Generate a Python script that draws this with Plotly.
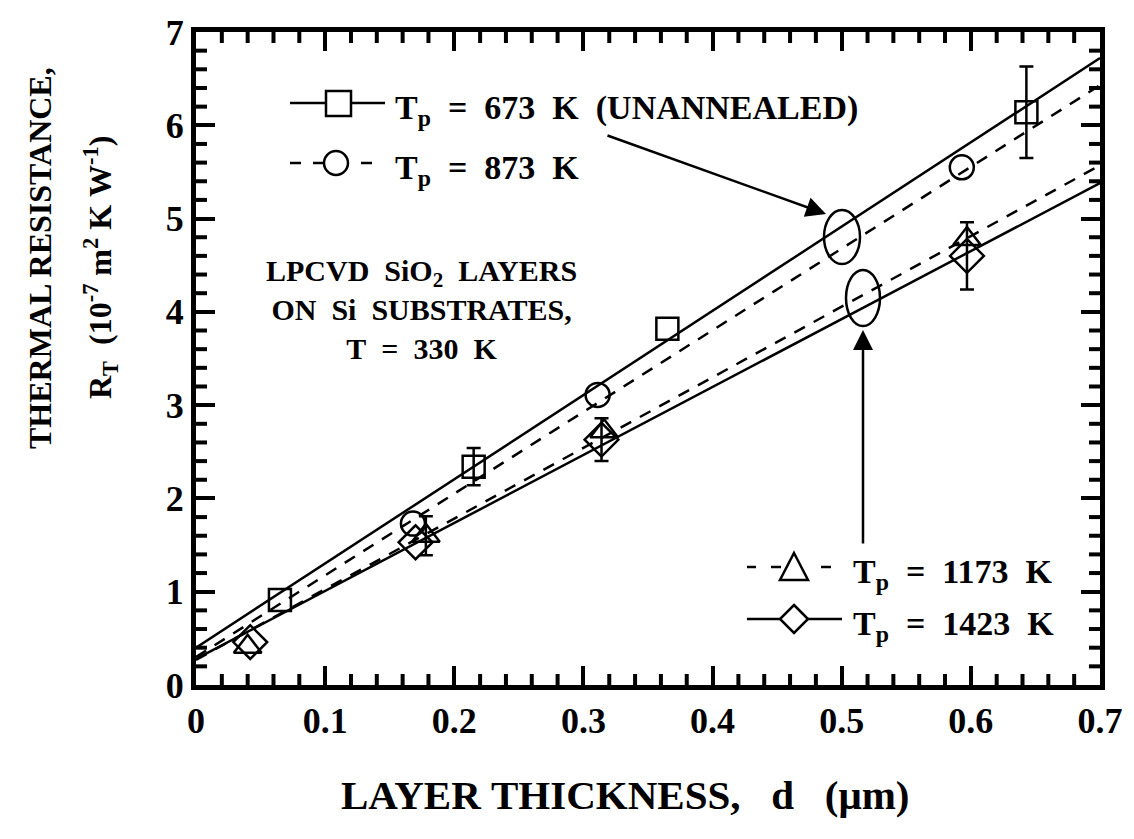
import plotly.graph_objects as go

# ---------------- data ----------------
D_673 = [0.065, 0.215, 0.365, 0.643]
R_673 = [0.91, 2.34, 3.82, 6.14]
E_673 = [None, 0.20, None, 0.49]

D_873 = [0.168, 0.311, 0.593]
R_873 = [1.73, 3.11, 5.55]

D_1173 = [0.040, 0.178, 0.316, 0.597]
R_1173 = [0.41, 1.60, 2.72, 4.78]
E_1173 = [None, 0.21, None, None]

D_1423 = [0.042, 0.170, 0.314, 0.597]
R_1423 = [0.46, 1.53, 2.63, 4.60]
E_1423 = [None, None, 0.23, 0.36]

FIT_D = [0.0, 0.7]
FIT_673 = [0.40, 6.72]
FIT_873 = [0.30, 6.43]
FIT_1173 = [0.27, 5.57]
FIT_1423 = [0.28, 5.38]

X_TICKS = [0, 0.1, 0.2, 0.3, 0.4, 0.5, 0.6, 0.7]
X_TICK_LABELS = ["0", "0.1", "0.2", "0.3", "0.4", "0.5", "0.6", "0.7"]
Y_TICKS = [0, 1, 2, 3, 4, 5, 6, 7]
Y_TICK_LABELS = ["0", "1", "2", "3", "4", "5", "6", "7"]

# ---------------- layout geometry (pixels) ----------------
W, H = 1134, 839
PL, PR, PT, PB = 196, 1100, 32, 685
FONT = "Liberation Serif"
NB = "\u00a0"

X_MINOR = [round(i * 0.02, 2) for i in range(1, 35) if i % 5]
Y_MINOR = [round(i * 0.2, 1) for i in range(1, 35) if i % 5]


def px(x):
    return (x - PL) / (PR - PL)


def py(y):
    return (PB - y) / (PB - PT)


def dx(x):
    return (x - PL) / (PR - PL) * 0.7


def dy(y):
    return (PB - y) / (PB - PT) * 7.0


fig = go.Figure()

# fitted lines
for ys, dash in [(FIT_673, "solid"), (FIT_873, "12px,10px"),
                 (FIT_1173, "12px,10px"), (FIT_1423, "solid")]:
    fig.add_trace(go.Scatter(x=FIT_D, y=ys, mode="lines",
                             line=dict(color="black", width=2.5, dash=dash),
                             showlegend=False, hoverinfo="skip"))


def err_trace(xs, ys, es):
    ex = [x for x, e in zip(xs, es) if e is not None]
    ey = [y for y, e in zip(ys, es) if e is not None]
    ee = [e for e in es if e is not None]
    return go.Scatter(x=ex, y=ey, mode="markers",
                      marker=dict(color="rgba(0,0,0,0)", size=1),
                      error_y=dict(type="data", array=ee, color="black",
                                   thickness=2.5, width=7),
                      showlegend=False, hoverinfo="skip")


for xs, ys, es in [(D_673, R_673, E_673), (D_1173, R_1173, E_1173),
                   (D_1423, R_1423, E_1423)]:
    fig.add_trace(err_trace(xs, ys, es))

for xs, ys, sym, size in [(D_673, R_673, "square-open", 22),
                          (D_873, R_873, "circle-open", 24),
                          (D_1173, R_1173, "triangle-up-open", 24),
                          (D_1423, R_1423, "diamond-open", 26)]:
    fig.add_trace(go.Scatter(x=xs, y=ys, mode="markers",
                             marker=dict(symbol=sym, size=size, color="black",
                                         line=dict(color="black", width=2.5)),
                             showlegend=False))

shapes = []
annotations = []

# minor ticks on all four sides
TICK = dict(color="black", width=4)
TL = 11
for v in X_MINOR:
    shapes.append(dict(type="line", xref="x", yref="paper", x0=v, x1=v,
                       ysizemode="pixel", yanchor=0, y0=0, y1=TL, line=TICK))
    shapes.append(dict(type="line", xref="x", yref="paper", x0=v, x1=v,
                       ysizemode="pixel", yanchor=1, y0=0, y1=-TL, line=TICK))
for v in Y_MINOR:
    shapes.append(dict(type="line", xref="paper", yref="y", y0=v, y1=v,
                       xsizemode="pixel", xanchor=0, x0=0, x1=TL, line=TICK))
    shapes.append(dict(type="line", xref="paper", yref="y", y0=v, y1=v,
                       xsizemode="pixel", xanchor=1, x0=0, x1=-TL, line=TICK))

# ellipses around the fitted lines
for cx, cy, rx, ry in [(842, 237, 18, 27), (863, 298, 17, 28)]:
    shapes.append(dict(type="circle", xref="x", yref="y",
                       x0=dx(cx - rx), x1=dx(cx + rx), y0=dy(cy + ry), y1=dy(cy - ry),
                       line=dict(color="black", width=2.5)))

# arrows
annotations.append(dict(x=dx(826), y=dy(214), xref="x", yref="y", text="",
                        showarrow=True, ax=606 - 826, ay=135 - 214,
                        arrowhead=2, arrowsize=1.6, arrowwidth=2.5,
                        arrowcolor="black"))
annotations.append(dict(x=dx(863), y=dy(330), xref="x", yref="y", text="",
                        showarrow=True, ax=0, ay=545 - 330,
                        arrowhead=2, arrowsize=1.6, arrowwidth=2.5,
                        arrowcolor="black"))


def seg(x0, x1, y):
    shapes.append(dict(type="line", xref="paper", yref="paper",
                       x0=px(x0), x1=px(x1), y0=py(y), y1=py(y),
                       line=dict(color="black", width=2.5)))


# legend top-left
seg(290, 326, 103)
seg(351, 385, 103)
shapes.append(dict(type="rect", xref="paper", yref="paper",
                   x0=px(326), x1=px(351), y0=py(116), y1=py(91),
                   line=dict(color="black", width=2.5)))
seg(290, 301, 163)
seg(313, 324, 163)
shapes.append(dict(type="circle", xref="paper", yref="paper",
                   x0=px(324), x1=px(348), y0=py(175), y1=py(151),
                   line=dict(color="black", width=2.5)))
seg(361, 372, 163)

# legend bottom-right
seg(747, 756, 567)
seg(771, 781, 567)
shapes.append(dict(type="path", xref="paper", yref="paper",
                   path=f"M{px(794)},{py(553)} L{px(808)},{py(580)} L{px(780)},{py(580)} Z",
                   line=dict(color="black", width=2.5)))
seg(821, 831, 567)
seg(747, 780, 619)
shapes.append(dict(type="path", xref="paper", yref="paper",
                   path=f"M{px(794)},{py(605)} L{px(808)},{py(619)} L{px(794)},{py(633)} L{px(780)},{py(619)} Z",
                   line=dict(color="black", width=2.5)))
seg(808, 842, 619)

LEG = 34
sp2 = NB * 2
for x0, y0, txt in [(393, 110, f"T<sub>p</sub>{sp2}={sp2}673{sp2}K{sp2}(UNANNEALED)"),
                    (393, 170, f"T<sub>p</sub>{sp2}={sp2}873{sp2}K"),
                    (851, 574, f"T<sub>p</sub>{sp2}={sp2}1173{sp2}K"),
                    (851, 626, f"T<sub>p</sub>{sp2}={sp2}1423{sp2}K")]:
    annotations.append(dict(x=px(x0), y=py(y0), xref="paper", yref="paper",
                            xanchor="left", yanchor="middle", showarrow=False,
                            text=txt, font=dict(size=LEG)))

annotations.append(dict(x=px(421), y=py(309), xref="paper", yref="paper",
                        xanchor="center", yanchor="middle", showarrow=False, align="center",
                        text=f"LPCVD{sp2}SiO<sub>2</sub>{sp2}LAYERS<br>ON{sp2}Si{sp2}SUBSTRATES,<br>T{sp2}={sp2}330{sp2}K",
                        font=dict(size=30)))

# axis titles
annotations.append(dict(x=px(625), y=py(795), xref="paper", yref="paper",
                        xanchor="center", yanchor="middle", showarrow=False,
                        text=f"LAYER{NB}THICKNESS,{NB*3}d{NB*3}(\u03bcm)",
                        font=dict(size=41)))
annotations.append(dict(x=px(40), y=py(258), xref="paper", yref="paper",
                        xanchor="center", yanchor="middle", showarrow=False,
                        textangle=-90, text="THERMAL RESISTANCE,",
                        font=dict(size=32)))
annotations.append(dict(x=px(100), y=py(268), xref="paper", yref="paper",
                        xanchor="center", yanchor="middle", showarrow=False,
                        textangle=-90,
                        text=f"R<sub>T</sub>{sp2}(10<sup>-7</sup>{NB}m<sup>2</sup>{NB}K{NB}W<sup>-1</sup>)",
                        font=dict(size=32)))

axis_common = dict(showline=True, linecolor="black", linewidth=5, mirror="ticks",
                   ticks="inside", tickcolor="black", tickwidth=4, ticklen=19,
                   showgrid=False, zeroline=False,
                   tickfont=dict(size=36, family=FONT, weight="bold"))

fig.update_layout(
    width=W, height=H,
    margin=dict(l=PL, r=W - PR, t=PT, b=H - PB),
    paper_bgcolor="white", plot_bgcolor="white",
    font=dict(family=FONT, color="black", weight="bold"),
    showlegend=False,
    shapes=shapes, annotations=annotations,
    xaxis=dict(range=[0, 0.7], tickvals=X_TICKS, ticktext=X_TICK_LABELS, **axis_common),
    yaxis=dict(range=[0, 7], tickvals=Y_TICKS, ticktext=Y_TICK_LABELS, **axis_common),
)

fig.write_html("out.html")
